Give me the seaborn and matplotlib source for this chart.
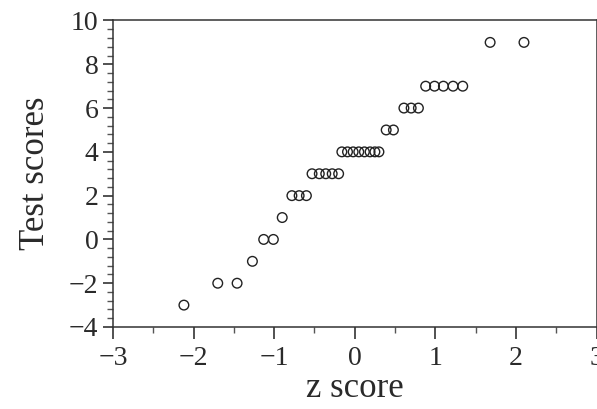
import matplotlib
matplotlib.use("Agg")
import matplotlib.pyplot as plt
from matplotlib.ticker import MultipleLocator
import seaborn as sns
import pandas as pd

# z scores (normal quantiles) and test scores
z_score = [-2.12, -1.70, -1.46, -1.27, -1.13, -1.01, -0.90,
           -0.78, -0.69, -0.60,
           -0.53, -0.44, -0.36, -0.28, -0.20,
           -0.16, -0.09, -0.02, 0.05, 0.12, 0.19, 0.25, 0.30,
           0.39, 0.48,
           0.61, 0.70, 0.79,
           0.88, 0.99, 1.10, 1.22, 1.34,
           1.68, 2.10]
test_scores = [-3, -2, -2, -1, 0, 0, 1,
               2, 2, 2,
               3, 3, 3, 3, 3,
               4, 4, 4, 4, 4, 4, 4, 4,
               5, 5,
               6, 6, 6,
               7, 7, 7, 7, 7,
               9, 9]
x_ticks = [-3, -2, -1, 0, 1, 2, 3]
y_ticks = [-4, -2, 0, 2, 4, 6, 8, 10]

df = pd.DataFrame({"z score": z_score, "Test scores": test_scores})

sns.set_style("ticks")
plt.rcParams["font.family"] = ["Liberation Serif", "DejaVu Serif"]
plt.rcParams["axes.unicode_minus"] = True

text_col = "#2a2a2a"
fig = plt.figure(figsize=(5.97, 4.09), dpi=100)
ax = fig.add_axes([113 / 597, (409 - 327) / 409, (596.5 - 113) / 597, (327 - 20.5) / 409])

sns.scatterplot(data=df, x="z score", y="Test scores", ax=ax,
                marker="o", s=48, facecolor="none", edgecolor="#222222",
                linewidth=1.0, zorder=3, clip_on=False)

ax.set_xlim(-3, 3)
ax.set_ylim(-4, 10)
ax.set_xticks(x_ticks)
ax.set_yticks(y_ticks)
ax.set_xticklabels([("\u2212" + str(-t)) if t < 0 else str(t) for t in x_ticks])
ax.set_yticklabels([("\u2212" + str(-t)) if t < 0 else str(t) for t in y_ticks])
ax.xaxis.set_minor_locator(MultipleLocator(0.5))
ax.yaxis.set_minor_locator(MultipleLocator(0.4))
ax.tick_params(axis="x", which="major", direction="out", length=8.5, width=1.2,
               color="#333333", labelsize=20, pad=5, labelcolor=text_col)
ax.tick_params(axis="y", which="major", direction="out", length=7.5, width=1.2,
               color="#333333", labelsize=20, pad=3, labelcolor=text_col)
ax.tick_params(axis="both", which="minor", direction="out", length=4, width=1,
               color="#555555")
for sp in ax.spines.values():
    sp.set_visible(True)
    sp.set_color("#333333")
    sp.set_linewidth(1.1)

ax.set_xlabel("z score", fontsize=25, labelpad=1, color=text_col)
ax.set_ylabel("Test scores", fontsize=25, labelpad=12, color=text_col)

fig.savefig("out.png", dpi=100)
